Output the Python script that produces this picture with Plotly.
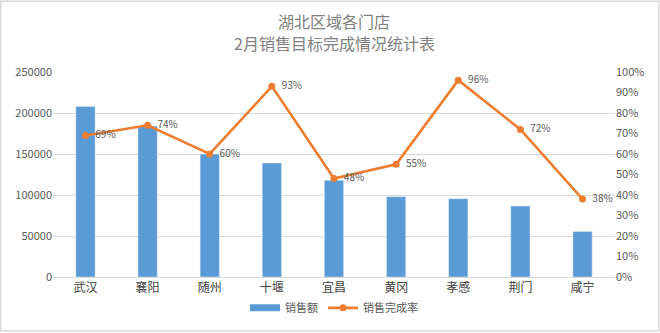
import plotly.graph_objects as go

categories = ["武汉", "襄阳", "随州", "十堰", "宜昌", "黄冈", "孝感", "荆门", "咸宁"]
sales = [208000, 184000, 150000, 139000, 118000, 98000, 95500, 86500, 55500]
rate = [0.69, 0.74, 0.60, 0.93, 0.48, 0.55, 0.96, 0.72, 0.38]
left_ticks = [0, 50000, 100000, 150000, 200000, 250000]
right_ticks = [i / 10 for i in range(11)]
title_lines = ["湖北区域各门店", "2月销售目标完成情况统计表"]

font_cjk = "Noto Sans CJK SC, Microsoft YaHei, sans-serif"
grey = "#595959"
blue = "#5B9BD5"
orange = "#ED7D31"

fig = go.Figure()
fig.add_trace(go.Bar(
    x=categories, y=sales, name="销售额",
    marker=dict(color=blue), width=0.31, showlegend=False,
))
fig.add_trace(go.Scatter(
    x=categories, y=rate, name="销售完成率", yaxis="y2",
    mode="lines+markers+text",
    line=dict(color=orange, width=2.6),
    marker=dict(color=orange, size=7),
    text=[f"  {round(r*100)}%" for r in rate],
    textposition="middle right",
    textfont=dict(size=10, color=grey, family=font_cjk),
    cliponaxis=False, showlegend=False,
))
# legend entries
fig.add_trace(go.Scatter(
    x=[None], y=[None], name="销售额", mode="lines",
    line=dict(color=blue, width=7),
))
fig.add_trace(go.Scatter(
    x=[None], y=[None], name="销售完成率", mode="lines+markers", yaxis="y2",
    line=dict(color=orange, width=2.6), marker=dict(color=orange, size=7),
))

annotations = []
for i, t in enumerate(title_lines):
    annotations.append(dict(
        text=t, xref="paper", yref="paper", x=0.5, xanchor="center",
        y=(278 - (20.5 + 22.5 * i)) / 206, yanchor="middle", showarrow=False,
        font=dict(size=16, color="#808080", family=font_cjk),
    ))

fig.update_layout(
    width=660, height=333,
    margin=dict(l=53, r=45, t=72, b=55),
    paper_bgcolor="white", plot_bgcolor="white",
    font=dict(family=font_cjk, color=grey, size=11),
    annotations=annotations,
    bargap=0.5,
    showlegend=True,
    legend=dict(
        orientation="h", x=0.5, xanchor="center",
        y=-0.145, yanchor="middle",
        font=dict(size=11, color=grey),
        itemwidth=30, tracegroupgap=0,
    ),
    xaxis=dict(
        showgrid=False, showline=True, linecolor="#d9d9d9",
        tickfont=dict(size=12, color="#404040"), ticks="",
    ),
    yaxis=dict(
        range=[0, 250000], tickvals=left_ticks,
        ticktext=[str(v) for v in left_ticks],
        showgrid=True, gridcolor="#d9d9d9", gridwidth=1,
        zeroline=False, showline=False, ticks="",
        tickfont=dict(size=11, color=grey),
    ),
    yaxis2=dict(
        range=[0, 1.0], tickvals=right_ticks,
        ticktext=[f"{int(round(v*100))}%" for v in right_ticks],
        overlaying="y", side="right",
        showgrid=False, zeroline=False, showline=False, ticks="",
        tickfont=dict(size=11, color=grey),
    ),
    shapes=[dict(
        type="rect", xref="paper", yref="paper",
        x0=-0.093, x1=1.078, y0=-0.262, y1=1.345,
        line=dict(color="#d9d9d9", width=1.5),
    )],
)

fig.write_html("out.html")
